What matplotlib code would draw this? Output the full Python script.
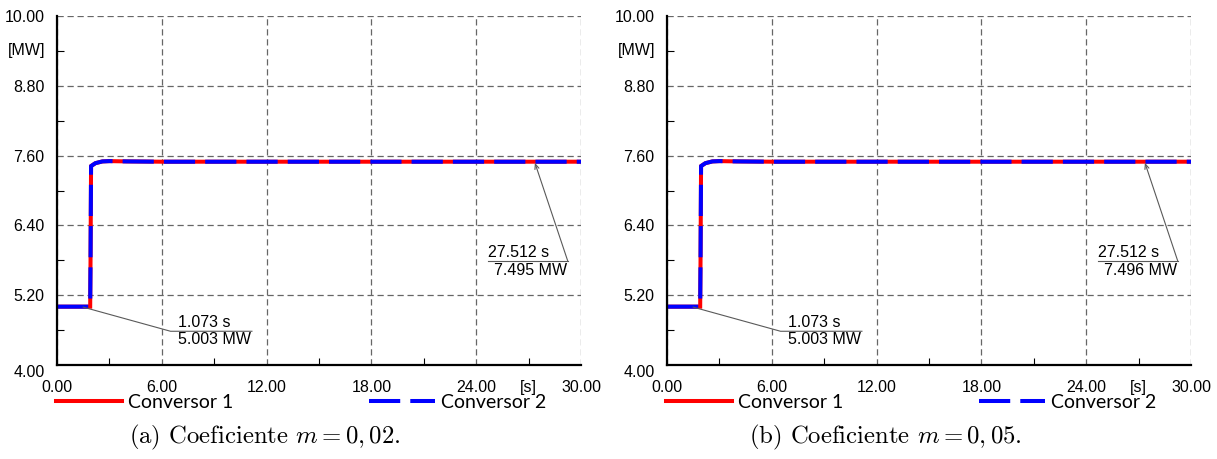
import matplotlib
matplotlib.use("Agg")
import matplotlib.pyplot as plt
import matplotlib.transforms as mtransforms
from matplotlib.ticker import FormatStrFormatter

plt.rcParams['font.family'] = ['Liberation Sans', 'DejaVu Sans']
plt.rcParams['mathtext.fontset'] = 'cm'

# time [s] and active power [MW] of both converters (same for both panels)
t = [0.0, 1.0, 1.90, 1.92, 1.95, 2.2, 2.6, 3.0, 4.0, 6.0, 12.0, 18.0, 24.0, 30.0]
p_conv1 = [5.003, 5.003, 5.003, 5.80, 7.42, 7.47, 7.50, 7.505, 7.50, 7.495, 7.495, 7.495, 7.495, 7.495]
p_conv2 = [5.003, 5.003, 5.003, 5.80, 7.42, 7.47, 7.50, 7.505, 7.50, 7.495, 7.495, 7.495, 7.495, 7.495]

labels = ['Conversor 1', 'Conversor 2']
captions = [r'(a) Coeficiente $m = 0,02.$', r'(b) Coeficiente $m = 0,05.$']
caption_x = [0.397, 0.416]

xticks = [0, 6, 12, 18, 24, 30]
xminor = [3, 9, 15, 21, 27]
yticks = [4.0, 5.2, 6.4, 7.6, 8.8, 10.0]
yminor = [4.6, 5.8, 7.0, 8.2, 9.4]

# cursor readouts (time, power) per panel
cursor1 = [(1.073, 5.003), (1.073, 5.003)]
cursor2 = [(27.512, 7.495), (27.512, 7.496)]

fig = plt.figure(figsize=(12.17, 4.59), dpi=100)
axes = [fig.add_axes([57/1217, 1-365/459, 524/1217, 349/459]),
        fig.add_axes([667/1217, 1-365/459, 524/1217, 349/459])]

fs = 11.5

for i, ax in enumerate(axes):
    ax.plot(t, p_conv1, color='#ff0000', lw=2.9, label=labels[0], solid_joinstyle='miter')
    ax.plot(t, p_conv2, color='#0000ff', lw=2.9, linestyle=(0, (7.75, 2.5)), label=labels[1])

    ax.set_xlim(0, 30)
    ax.set_ylim(4, 10)
    ax.set_xticks(xticks)
    ax.set_xticks(xminor, minor=True)
    ax.set_yticks(yticks)
    ax.set_yticks(yminor, minor=True)
    ax.xaxis.set_major_formatter(FormatStrFormatter('%.2f'))
    ax.yaxis.set_major_formatter(FormatStrFormatter('%.2f'))
    ax.tick_params(which='both', direction='in', labelsize=fs)
    ax.tick_params(which='major', length=0)
    ax.tick_params(which='minor', length=5, width=0.8)
    ax.tick_params(axis='x', pad=11)
    ax.tick_params(axis='y', pad=9)
    ax.grid(True, which='major', color='0.4', linestyle=(0, (5, 3)), lw=0.9)
    for s in ['top', 'right']:
        ax.spines[s].set_visible(False)
    for s in ['left', 'bottom']:
        ax.spines[s].set_linewidth(1.6)

    # 4.00 label sits a bit lower than the others
    lab0 = ax.get_yticklabels()[0]
    lab0.set_transform(lab0.get_transform() + mtransforms.ScaledTranslation(0, -6/100, fig.dpi_scale_trans))

    ax.text(-0.058, 9.4, '[MW]', transform=mtransforms.blended_transform_factory(ax.transAxes, ax.transData),
            ha='center', va='center', fontsize=fs)
    ax.text(27, -0.043, '[s]', transform=mtransforms.blended_transform_factory(ax.transData, ax.transAxes),
            ha='center', va='top', fontsize=fs)

    # cursor 1
    ct, cp = cursor1[i]
    ax.plot([1.5, 6.5, 11.16], [4.995, 4.58, 4.58], color='0.35', lw=0.8)
    ax.text(6.95, 4.60, '%.3f s' % ct, ha='left', va='bottom', fontsize=fs)
    ax.text(6.95, 4.56, '%.3f MW' % cp, ha='left', va='top', fontsize=fs)

    # cursor 2
    ct, cp = cursor2[i]
    ax.annotate('', xy=(ct - 0.15, cp - 0.02), xytext=(29.25, 5.78),
                arrowprops=dict(arrowstyle='->, head_length=0.35, head_width=0.15', lw=0.8,
                                color='0.35', shrinkA=0, shrinkB=0))
    ax.plot([24.67, 29.25], [5.78, 5.78], color='0.35', lw=0.8)
    ax.text(24.7, 5.80, '%.3f s' % ct, ha='left', va='bottom', fontsize=fs)
    ax.text(25.0, 5.76, '%.3f MW' % cp, ha='left', va='top', fontsize=fs)

    ax.legend(loc='center left', bbox_to_anchor=(-0.002, -0.108), ncol=2, frameon=False,
              borderaxespad=0, borderpad=0,
              handlelength=3.4, handletextpad=0.3, columnspacing=7.0,
              prop={'family': 'Lato', 'size': 14})

    ax.text(caption_x[i], -0.207, captions[i], transform=ax.transAxes, ha='center', va='center',
            fontsize=17.8, family='cmr10')

fig.savefig('out.png', dpi=100, facecolor='white')
